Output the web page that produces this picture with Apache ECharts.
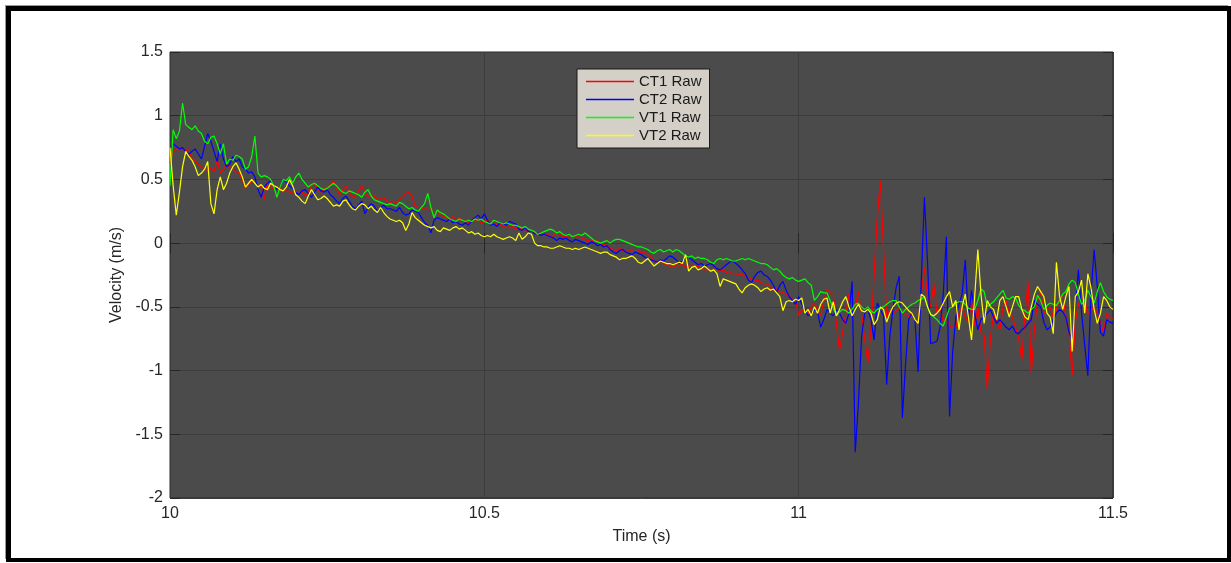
<!DOCTYPE html>
<html>
<head>
<meta charset="utf-8">
<script src="https://cdn.jsdelivr.net/npm/echarts@6/dist/echarts.min.js"></script>
<style>
  html, body { margin: 0; padding: 0; background: #fff; width: 1231px; height: 563px; overflow: hidden; }
  #frame {
    position: absolute; left: 6px; top: 6px; width: 1225px; height: 556px;
    box-sizing: border-box; border-style: solid; border-color: #000;
    border-width: 5px 4px 4px 5px; box-shadow: -2px -2px 0 -1px #9a9a9a;
  }
  #chart { position: absolute; left: 0; top: 0; width: 1231px; height: 563px; }
</style>
</head>
<body>
<div id="frame"></div>
<div id="chart"></div>
<script>
// Sampling clock of the logged velocities
const T0 = 10;
const DT = 0.005;

const xTicks = ['10', '10.5', '11', '11.5'];
const seriesNames = ['CT1 Raw', 'CT2 Raw', 'VT1 Raw', 'VT2 Raw'];

const ct1Raw = [
  0.63, 0.72, 0.74, 0.73, 0.75, 0.72, 0.74, 0.66, 0.64, 0.62,
  0.60, 0.58, 0.57, 0.59, 0.56, 0.66, 0.55, 0.58, 0.62, 0.60,
  0.59, 0.56, 0.55, 0.50, 0.43, 0.46, 0.49, 0.47, 0.45, 0.44,
  0.34, 0.48, 0.45, 0.42, 0.44, 0.43, 0.40, 0.42, 0.40, 0.39,
  0.41, 0.38, 0.40, 0.37, 0.40, 0.45, 0.47, 0.42, 0.40, 0.43,
  0.44, 0.46, 0.49, 0.43, 0.38, 0.42, 0.45, 0.40, 0.36, 0.37,
  0.41, 0.45, 0.40, 0.36, 0.38, 0.37, 0.34, 0.35, 0.36, 0.33,
  0.32, 0.33, 0.31, 0.34, 0.36, 0.39, 0.40, 0.37, 0.29, 0.28,
  0.27, 0.28, 0.26, 0.27, 0.25, 0.24, 0.22, 0.21, 0.20, 0.19,
  0.21, 0.18, 0.20, 0.17, 0.18, 0.16, 0.19, 0.17, 0.18, 0.16,
  0.17, 0.18, 0.15, 0.16, 0.14, 0.15, 0.13, 0.14, 0.12, 0.13,
  0.11, 0.13, 0.10, 0.11, 0.09, 0.10, 0.08, 0.07, 0.08, 0.06,
  0.07, 0.05, 0.06, 0.08, 0.07, 0.05, 0.06, 0.04, 0.05, 0.06,
  0.05, 0.04, 0.03, 0.02, 0.03, 0.01, 0.02, 0.00, -0.01, -0.02,
  -0.04, -0.05, -0.06, -0.04, -0.06, -0.07, -0.05, -0.06, -0.07, -0.06,
  -0.08, -0.07, -0.09, -0.11, -0.14, -0.15, -0.13, -0.16, -0.17, -0.18,
  -0.19, -0.17, -0.18, -0.16, -0.19, -0.18, -0.17, -0.19, -0.18, -0.20,
  -0.21, -0.20, -0.22, -0.21, -0.20, -0.22, -0.21, -0.23, -0.22, -0.24,
  -0.24, -0.25, -0.24, -0.26, -0.27, -0.28, -0.30, -0.29, -0.31, -0.32,
  -0.32, -0.35, -0.37, -0.36, -0.38, -0.39, -0.40, -0.42, -0.44, -0.45,
  -0.57, -0.52, -0.54, -0.55, -0.50, -0.47, -0.52, -0.57, -0.45, -0.37,
  -0.38, -0.40, -0.63, -0.84, -0.70, -0.55, -0.40, -0.45, -0.50, -0.38,
  -0.55, -0.75, -0.94, -0.68, -0.25, 0.20, 0.49, -0.05, -0.58, -0.52,
  -0.55, -0.53, -0.50, -0.54, -0.56, -0.58, -0.55, -0.60, -0.62, -0.40,
  -0.19, -0.42, -0.50, -0.32, -0.55, -0.50, -0.62, -0.58, -0.65, -0.66,
  -0.66, -0.55, -0.50, -0.58, -0.62, -0.45, -0.65, -0.50, -0.70, -0.72,
  -1.15, -0.75, -0.55, -0.62, -0.68, -0.50, -0.45, -0.55, -0.58, -0.66,
  -0.75, -0.92, -0.55, -0.30, -1.02, -0.68, -0.45, -0.38, -0.55, -0.52,
  -0.50, -0.58, -0.52, -0.44, -0.40, -0.58, -0.70, -1.04, -0.62, -0.48,
  -0.42, -0.45, -0.56, -0.52, -0.50, -0.55, -0.62, -0.70, -0.55, -0.58,
  -0.60
];

const ct2Raw = [
  0.74, 0.78, 0.76, 0.74, 0.75, 0.72, 0.70, 0.72, 0.74, 0.70,
  0.66, 0.76, 0.86, 0.80, 0.72, 0.64, 0.78, 0.66, 0.60, 0.62,
  0.68, 0.64, 0.66, 0.60, 0.58, 0.55, 0.56, 0.52, 0.42, 0.36,
  0.44, 0.47, 0.49, 0.45, 0.42, 0.44, 0.50, 0.48, 0.45, 0.43,
  0.40, 0.38, 0.41, 0.42, 0.39, 0.36, 0.40, 0.44, 0.41, 0.40,
  0.42, 0.38, 0.36, 0.33, 0.31, 0.35, 0.37, 0.33, 0.29, 0.27,
  0.30, 0.33, 0.23, 0.28, 0.31, 0.29, 0.25, 0.27, 0.30, 0.27,
  0.27, 0.26, 0.25, 0.28, 0.24, 0.22, 0.23, 0.26, 0.25, 0.24,
  0.20, 0.16, 0.14, 0.08, 0.18, 0.20, 0.19, 0.18, 0.17, 0.19,
  0.16, 0.17, 0.15, 0.14, 0.16, 0.14, 0.18, 0.20, 0.22, 0.19,
  0.23, 0.18, 0.14, 0.15, 0.13, 0.16, 0.15, 0.14, 0.17, 0.16,
  0.15, 0.11, 0.10, 0.12, 0.09, 0.10, 0.07, 0.08, 0.06, 0.07,
  0.06, 0.05, 0.04, 0.02, 0.04, 0.03, 0.04, 0.02, 0.01, 0.03,
  0.02, 0.01, 0.00, -0.01, 0.01, 0.00, -0.02, -0.01, -0.03, -0.02,
  -0.05, -0.07, -0.08, -0.06, -0.05, -0.07, -0.08, -0.09, -0.07, -0.08,
  -0.09, -0.11, -0.12, -0.13, -0.14, -0.15, -0.13, -0.14, -0.12, -0.10,
  -0.11, -0.13, -0.16, -0.14, -0.12, -0.11, -0.13, -0.15, -0.17, -0.16,
  -0.18, -0.17, -0.16, -0.18, -0.20, -0.21, -0.19, -0.17, -0.15, -0.14,
  -0.16, -0.18, -0.21, -0.24, -0.29, -0.31, -0.26, -0.23, -0.22, -0.25,
  -0.26, -0.29, -0.33, -0.39, -0.33, -0.30, -0.37, -0.42, -0.45, -0.48,
  -0.42, -0.48, -0.52, -0.57, -0.55, -0.52, -0.54, -0.66, -0.60, -0.52,
  -0.55, -0.57, -0.52, -0.55, -0.60, -0.63, -0.55, -0.30, -1.64, -1.26,
  -0.74, -0.55, -0.52, -0.60, -0.76, -0.47, -0.52, -0.57, -1.11, -0.73,
  -0.52, -0.35, -0.26, -1.37, -0.95, -0.60, -0.55, -0.60, -1.01, -0.30,
  0.36, -0.15, -0.79, -0.78, -0.77, -0.66, -0.40, 0.05, -1.36, -0.85,
  -0.58, -0.48, -0.40, -0.13, -0.60, -0.37, -0.55, -0.68, -0.60, -0.58,
  -0.55, -0.52, -0.58, -0.63, -0.60, -0.63, -0.66, -0.68, -0.65, -0.70,
  -0.71, -0.68, -0.66, -0.63, -0.60, -0.45, -0.48, -0.50, -0.62, -0.68,
  -0.66, -0.60, -0.55, -0.52, -0.54, -0.58, -0.70, -0.76, -0.50, -0.21,
  -0.55, -0.80, -1.04, -0.40, -0.05, -0.34, -0.70, -0.73, -0.60, -0.62,
  -0.63
];

const vt1Raw = [
  0.45, 0.89, 0.82, 0.88, 1.10, 0.93, 0.91, 0.89, 0.92, 0.88,
  0.86, 0.80, 0.78, 0.83, 0.84, 0.78, 0.70, 0.78, 0.62, 0.66,
  0.65, 0.69, 0.68, 0.66, 0.58, 0.60, 0.68, 0.84, 0.55, 0.52,
  0.53, 0.52, 0.50, 0.45, 0.36, 0.44, 0.50, 0.49, 0.52, 0.47,
  0.52, 0.55, 0.50, 0.47, 0.44, 0.46, 0.47, 0.45, 0.43, 0.42,
  0.43, 0.45, 0.47, 0.45, 0.42, 0.40, 0.39, 0.41, 0.40, 0.39,
  0.38, 0.36, 0.40, 0.42, 0.37, 0.34, 0.33, 0.32, 0.31, 0.30,
  0.31, 0.30, 0.29, 0.32, 0.31, 0.29, 0.27, 0.28, 0.26, 0.25,
  0.28, 0.31, 0.39, 0.28, 0.20, 0.26, 0.24, 0.23, 0.21, 0.19,
  0.18, 0.17, 0.19, 0.18, 0.17, 0.18, 0.17, 0.19, 0.18, 0.19,
  0.17, 0.16, 0.15, 0.18, 0.17, 0.16, 0.15, 0.16, 0.15, 0.14,
  0.14, 0.13, 0.12, 0.13, 0.11, 0.10, 0.09, 0.07, 0.08, 0.09,
  0.10, 0.11, 0.10, 0.08, 0.09, 0.07, 0.06, 0.07, 0.05, 0.06,
  0.07, 0.06, 0.08, 0.06, 0.04, 0.02, 0.01, 0.00, 0.01, 0.02,
  0.00, 0.02, 0.03, 0.03, 0.02, 0.01, 0.00, -0.01, -0.02, -0.03,
  -0.03, -0.04, -0.05, -0.07, -0.08, -0.06, -0.05, -0.07, -0.06, -0.05,
  -0.07, -0.05, -0.06, -0.08, -0.10, -0.11, -0.10, -0.12, -0.11, -0.12,
  -0.12, -0.13, -0.15, -0.16, -0.13, -0.12, -0.13, -0.12, -0.13, -0.14,
  -0.14, -0.13, -0.12, -0.13, -0.12, -0.13, -0.14, -0.15, -0.16, -0.16,
  -0.17, -0.19, -0.21, -0.20, -0.22, -0.25, -0.27, -0.28, -0.27, -0.29,
  -0.30, -0.29, -0.28, -0.31, -0.33, -0.45, -0.42, -0.38, -0.39, -0.39,
  -0.45, -0.51, -0.57, -0.54, -0.52, -0.53, -0.55, -0.52, -0.48, -0.47,
  -0.50, -0.52, -0.50, -0.53, -0.55, -0.52, -0.51, -0.50, -0.48, -0.46,
  -0.45, -0.45, -0.50, -0.55, -0.52, -0.50, -0.48, -0.47, -0.45, -0.44,
  -0.42, -0.50, -0.56, -0.58, -0.60, -0.63, -0.65, -0.58, -0.51, -0.50,
  -0.47, -0.46, -0.46, -0.48, -0.51, -0.52, -0.52, -0.45, -0.36, -0.38,
  -0.50, -0.48, -0.46, -0.43, -0.40, -0.37, -0.43, -0.44, -0.42, -0.43,
  -0.49, -0.52, -0.53, -0.55, -0.52, -0.50, -0.41, -0.45, -0.52, -0.49,
  -0.47, -0.48, -0.49, -0.45, -0.40, -0.38, -0.32, -0.29, -0.31, -0.40,
  -0.48, -0.45, -0.37, -0.42, -0.47, -0.38, -0.31, -0.38, -0.42, -0.44,
  -0.45
];

const vt2Raw = [
  0.75, 0.45, 0.22, 0.40, 0.60, 0.72, 0.68, 0.65, 0.60, 0.53,
  0.55, 0.58, 0.64, 0.31, 0.23, 0.42, 0.52, 0.42, 0.47, 0.55,
  0.60, 0.63, 0.58, 0.52, 0.44, 0.47, 0.50, 0.47, 0.44, 0.46,
  0.43, 0.42, 0.47, 0.45, 0.44, 0.42, 0.41, 0.44, 0.50, 0.45,
  0.38, 0.36, 0.33, 0.31, 0.37, 0.42, 0.38, 0.34, 0.35, 0.37,
  0.35, 0.32, 0.29, 0.30, 0.29, 0.33, 0.34, 0.30, 0.27, 0.26,
  0.29, 0.31, 0.30, 0.27, 0.29, 0.26, 0.24, 0.28, 0.24, 0.21,
  0.19, 0.18, 0.17, 0.18, 0.16, 0.10, 0.15, 0.24, 0.20, 0.18,
  0.16, 0.14, 0.13, 0.12, 0.13, 0.10, 0.09, 0.12, 0.11, 0.10,
  0.12, 0.13, 0.11, 0.12, 0.10, 0.08, 0.09, 0.07, 0.08, 0.06,
  0.05, 0.06, 0.05, 0.07, 0.05, 0.04, 0.03, 0.04, 0.05, 0.04,
  0.02, 0.08, 0.03, 0.05, 0.08, 0.07, 0.00, -0.02, -0.02, -0.03,
  -0.03, -0.04, -0.04, -0.03, -0.02, -0.03, -0.04, -0.04, -0.05, -0.04,
  -0.05, -0.04, -0.03, -0.04, -0.05, -0.06, -0.07, -0.08, -0.07, -0.07,
  -0.09, -0.10, -0.11, -0.13, -0.12, -0.12, -0.11, -0.10, -0.12, -0.15,
  -0.16, -0.14, -0.12, -0.15, -0.18, -0.16, -0.14, -0.15, -0.16, -0.16,
  -0.17, -0.16, -0.15, -0.16, -0.09, -0.22, -0.19, -0.18, -0.21, -0.20,
  -0.18, -0.20, -0.22, -0.21, -0.24, -0.34, -0.28, -0.29, -0.30, -0.31,
  -0.32, -0.36, -0.39, -0.35, -0.33, -0.32, -0.33, -0.35, -0.38, -0.36,
  -0.35, -0.37, -0.36, -0.39, -0.42, -0.53, -0.46, -0.45, -0.46, -0.44,
  -0.45, -0.43, -0.55, -0.52, -0.57, -0.50, -0.55, -0.48, -0.44, -0.43,
  -0.55, -0.46, -0.57, -0.52, -0.46, -0.42, -0.50, -0.57, -0.52, -0.48,
  -0.53, -0.54, -0.52, -0.55, -0.64, -0.60, -0.50, -0.52, -0.62, -0.55,
  -0.50, -0.47, -0.46, -0.47, -0.50, -0.53, -0.55, -0.60, -0.63, -0.40,
  -0.42, -0.50, -0.56, -0.57, -0.55, -0.52, -0.47, -0.42, -0.38, -0.50,
  -0.45, -0.68, -0.50, -0.40, -0.58, -0.76, -0.42, -0.05, -0.40, -0.63,
  -0.45, -0.50, -0.52, -0.60, -0.45, -0.42, -0.50, -0.58, -0.50, -0.42,
  -0.42, -0.52, -0.58, -0.60, -0.50, -0.40, -0.34, -0.38, -0.42, -0.55,
  -0.58, -0.71, -0.15, -0.42, -0.52, -0.42, -0.34, -0.85, -0.42, -0.38,
  -0.29, -0.55, -0.24, -0.35, -0.52, -0.63, -0.55, -0.42, -0.45, -0.50,
  -0.52
];

const lineColors = ['#ff0000', '#0000ff', '#00ff00', '#ffff00'];
const allValues = [ct1Raw, ct2Raw, vt1Raw, vt2Raw];

const times = ct1Raw.map((_, i) => +(T0 + i * DT).toFixed(3));
const pairs = vals => vals.map((v, i) => [times[i], v]);

const labelFont = { color: '#262626', fontFamily: 'Liberation Sans, Arial, sans-serif', fontSize: 16 };
const tickStyle = { show: true, inside: true, length: 10, lineStyle: { color: '#262626', width: 1 } };

const chart = echarts.init(document.getElementById('chart'), null, { renderer: 'canvas' });
chart.setOption({
  animation: false,
  backgroundColor: 'transparent',
  grid: {
    left: 170, right: 118, top: 52, bottom: 65,
    show: true, backgroundColor: '#4b4b4b', borderColor: '#262626', borderWidth: 1
  },
  legend: {
    // plain line samples, no marker in the middle
    data: seriesNames.map((name, k) => ({
      name,
      icon: 'path://M0,0 L48,0 L48,1.6 L0,1.6 Z',
      itemStyle: { color: lineColors[k], borderWidth: 0 }
    })),
    orient: 'vertical',
    left: 577, top: 69,
    itemWidth: 48, itemHeight: 14, itemGap: 3,
    padding: [5, 8, 5, 9],
    backgroundColor: '#d4d0c8',
    borderColor: '#1a1a1a', borderWidth: 1,
    textStyle: { color: '#1a1a1a', fontFamily: 'Liberation Sans, Arial, sans-serif', fontSize: 15 },
    selectedMode: false
  },
  xAxis: [{
    type: 'value', min: 10, max: 11.5, interval: 0.5,
    name: 'Time (s)', nameLocation: 'middle', nameGap: 31,
    nameTextStyle: { color: '#262626', fontFamily: 'Liberation Sans, Arial, sans-serif', fontSize: 16 },
    axisLine: { show: false },
    axisTick: tickStyle,
    axisLabel: Object.assign({ margin: 8, formatter: (v) => xTicks[Math.round((v - 10) / 0.5)] ?? String(v) }, labelFont),
    splitLine: { show: true, lineStyle: { color: '#3c3c3c', width: 1 } }
  }, {
    type: 'value', min: 10, max: 11.5, interval: 0.5, position: 'top',
    axisLine: { show: false }, axisTick: tickStyle, axisLabel: { show: false }, splitLine: { show: false }
  }],
  yAxis: [{
    type: 'value', min: -2, max: 1.5, interval: 0.5,
    name: 'Velocity (m/s)', nameLocation: 'middle', nameGap: 42,
    nameTextStyle: { color: '#262626', fontFamily: 'Liberation Sans, Arial, sans-serif', fontSize: 16 },
    axisLine: { show: false },
    axisTick: tickStyle,
    axisLabel: Object.assign({ margin: 7 }, labelFont),
    splitLine: { show: true, lineStyle: { color: '#3c3c3c', width: 1 } }
  }, {
    type: 'value', min: -2, max: 1.5, interval: 0.5, position: 'right',
    axisLine: { show: false }, axisTick: tickStyle, axisLabel: { show: false }, splitLine: { show: false }
  }],
  series: allValues.map((vals, k) => ({
    name: seriesNames[k],
    type: 'line',
    xAxisIndex: 0, yAxisIndex: 0,
    data: pairs(vals),
    symbol: 'none', showSymbol: false,
    lineStyle: { color: lineColors[k], width: 1.2 },
    itemStyle: { color: lineColors[k] },
    emphasis: { disabled: true },
    z: 2 + k
  }))
});
</script>
</body>
</html>
